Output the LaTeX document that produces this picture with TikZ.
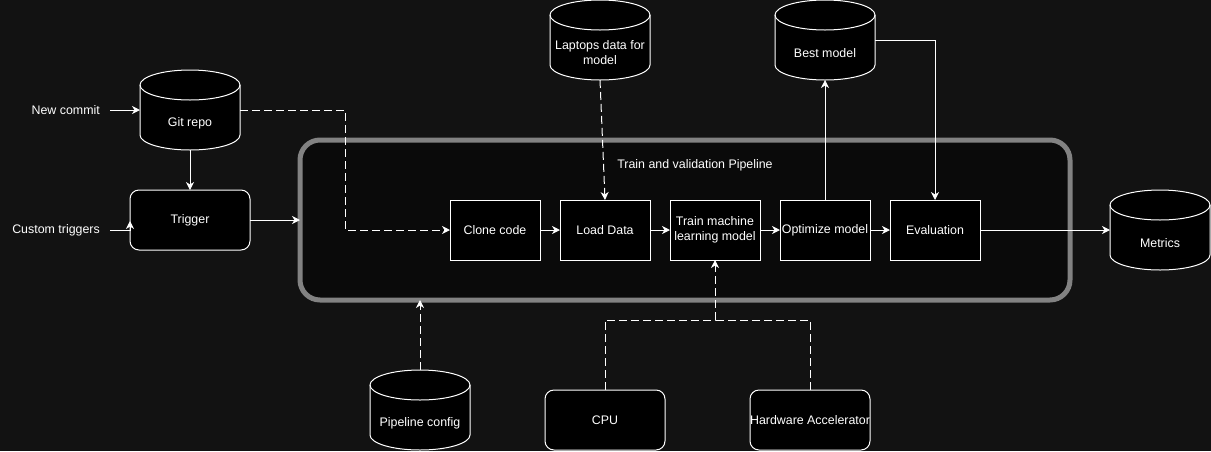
\documentclass[tikz,border=0pt]{standalone}
\usepackage{fontspec}
\setmainfont{Liberation Sans}
\usetikzlibrary{arrows.meta}
\definecolor{bgc}{HTML}{121212}
\definecolor{innerc}{HTML}{0A0A0A}
\definecolor{framec}{HTML}{828282}
\newcommand{\mycyl}[4]{%
  \begin{scope}[shift={(#2,#3)}]
    \draw[cylline] (-50,-25) -- (-50,25) arc[start angle=180,end angle=0,x radius=50,y radius=15]
      -- (50,-25) arc[start angle=0,end angle=-180,x radius=50,y radius=15] -- cycle;
    \draw[cylline,fill=none] (-50,-25) arc[start angle=180,end angle=0,x radius=50,y radius=15];
  \end{scope}
  \node[cylbox] (#1) at (#2,#3) {};
  \node[txt] (#1-t) at (#2,#3+13) {#4};
}
\begin{document}
\begin{tikzpicture}[x=1pt,y=-1pt,
  txt/.style={text=white,font=\fontsize{12.4}{15}\selectfont,align=center,inner sep=0pt},
  box/.style={txt,draw=white,fill=black,line width=1pt,minimum width=90pt,minimum height=60pt,outer sep=0pt},
  rbox/.style={box,rounded corners=9pt,minimum width=120pt},
  cylline/.style={draw=white,fill=black,line width=1pt},
  cylbox/.style={draw=none,minimum width=100pt,minimum height=80pt,inner sep=0pt,outer sep=0pt},
  conn/.style={draw=white,line width=1pt,-{Stealth[length=8pt,width=8pt,inset=2.5pt]}},
  dconn/.style={conn,dash pattern=on 8pt off 4pt},
  dline/.style={draw=white,line width=1pt,dash pattern=on 8pt off 4pt},
  lbl/.style={txt,inner xsep=10pt,anchor=east}
]
\fill[bgc] (0,0) rectangle (1211,451);
\useasboundingbox (0,0) rectangle (1211,451);

% container
\node[draw=framec,fill=innerc,line width=5pt,rounded corners=20pt,minimum width=770pt,minimum height=160pt,outer sep=0pt,inner sep=0pt] (pipe) at (685,220) {};
\node[txt] (pipe-t) at (695,165) {Train and validation Pipeline};

% cylinders
\mycyl{git}{190}{110}{Git repo}
\mycyl{lap}{600}{40}{Laptops data for\\model}
\mycyl{best}{825}{40}{Best model}
\mycyl{met}{1160}{230}{Metrics}
\mycyl{pc}{420}{410}{Pipeline config}

% boxes
\node[rbox] (trig) at (190,220) {Trigger};
\node[box] (clone) at (495,230) {Clone code};
\node[box] (load) at (605,230) {Load Data};
\node[box] (train) at (715,230) {Train machine\\learning model};
\node[box] (opt) at (825,230) {Optimize model};
\node[box] (eval) at (935,230) {Evaluation};
\node[rbox] (cpu) at (605,420) {CPU};
\node[rbox] (hw) at (810,420) {Hardware Accelerator};

% labels
\node[lbl] (nc) at (110,110) {New commit};
\node[lbl] (ct) at (110,230) {Custom triggers};

% coordinates
\coordinate (ctend) at (trig.west |- ct.east);
\coordinate (gbend) at (345,230);
\coordinate (jn) at (train.south |- 0,320);

% connectors
\draw[conn] (nc.east) -- (git.west);
\draw[conn] (ct.east) -- (ctend) -- ++(0,-9);
\draw[conn] (git.south) -- (trig.north);
\draw[conn] (trig.east) -- (trig.east -| pipe.west);
\draw[dconn] (git.east) -| (gbend) -- (clone.west);
\draw[conn] (clone.east) -- (load.west);
\draw[conn] (load.east) -- (train.west);
\draw[conn] (train.east) -- (opt.west);
\draw[conn] (opt.east) -- (eval.west);
\draw[dconn] (lap.south) -- (load.north);
\draw[conn] (opt.north) -- (best.south);
\draw[conn] (best.east) -| (eval.north);
\draw[conn] (eval.east) -- (met.west);
\draw[dconn] (pc.north) -- (pc.north |- pipe.south);
\draw[dconn] (cpu.north) |- (jn) -- (train.south);
\draw[dline] (hw.north) |- (jn);
\end{tikzpicture}
\end{document}
